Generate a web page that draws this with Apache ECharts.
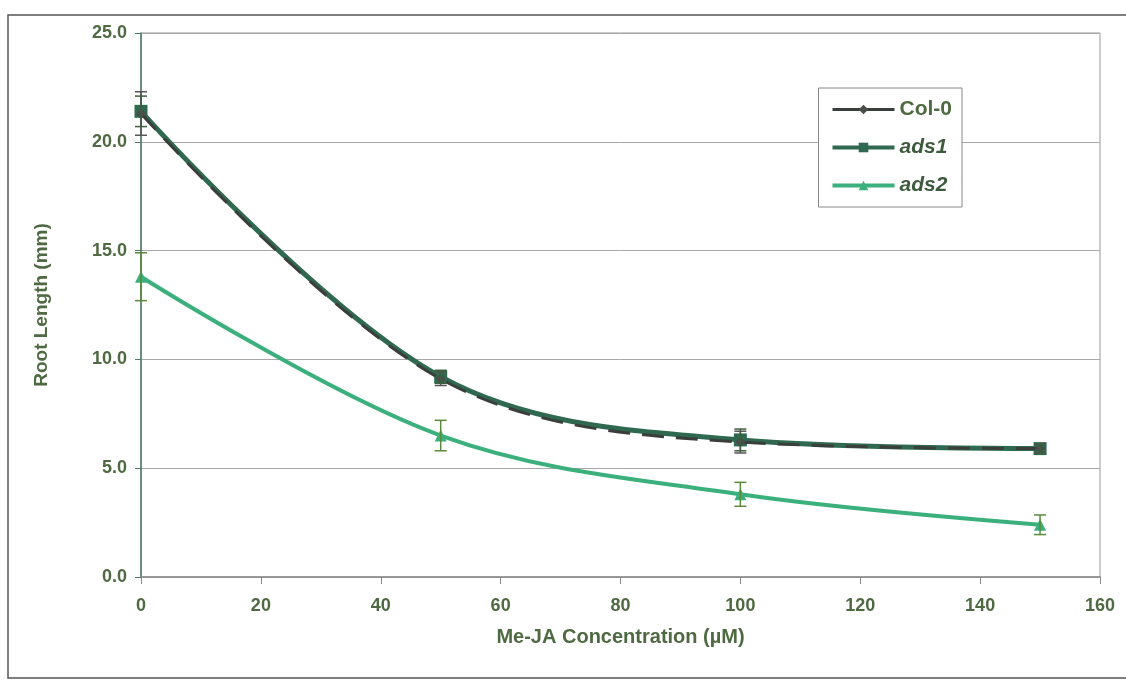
<!DOCTYPE html>
<html>
<head>
<meta charset="utf-8">
<script src="https://cdn.jsdelivr.net/npm/echarts@6/dist/echarts.min.js"></script>
<style>
  html, body { margin: 0; padding: 0; background: #fff; }
  #chart { width: 1126px; height: 683px; }
</style>
</head>
<body>
<div id="chart"></div>
<script>
// Me-JA concentration (uM)
const conc = [0, 50, 100, 150];
// root length (mm)
const col0 = [21.3, 9.1, 6.2, 5.9];
const ads1 = [21.4, 9.2, 6.3, 5.9];
const ads2 = [13.8, 6.5, 3.8, 2.4];
// error bars (+/-)
const col0Err = [1.0, 0.3, 0.5, 0.2];
const ads1Err = [0.7, 0.3, 0.5, 0.2];
const ads2Err = [1.1, 0.7, 0.55, 0.45];

const txtColor = '#4f6a42';
const font = 'Liberation Sans, Arial, sans-serif';

function errSeries(vals, errs, color) {
  return {
    type: 'custom',
    silent: true,
    z: 5,
    data: conc.map((c, i) => [c, vals[i] - errs[i], vals[i] + errs[i]]),
    renderItem: function (params, api) {
      const lo = api.coord([api.value(0), api.value(1)]);
      const hi = api.coord([api.value(0), api.value(2)]);
      const w = 6;
      const st = { stroke: color, lineWidth: 1.5 };
      return {
        type: 'group',
        children: [
          { type: 'line', shape: { x1: lo[0], y1: lo[1], x2: hi[0], y2: hi[1] }, style: st },
          { type: 'line', shape: { x1: lo[0] - w, y1: lo[1], x2: lo[0] + w, y2: lo[1] }, style: st },
          { type: 'line', shape: { x1: hi[0] - w, y1: hi[1], x2: hi[0] + w, y2: hi[1] }, style: st }
        ]
      };
    }
  };
}

let myChart = echarts.init(document.getElementById('chart'));

const option = {
  animation: false,
  backgroundColor: '#fff',
  textStyle: { fontFamily: font },
  graphic: [
    {
      type: 'rect',
      shape: { x: 8, y: 15, width: 1130, height: 663 },
      style: { fill: 'none', stroke: '#555', lineWidth: 1.5 },
      silent: true
    }
  ],
  grid: { left: 141, right: 26, top: 33, bottom: 106, show: true, borderColor: '#999', borderWidth: 1 },
  legend: {
    right: 164,
    top: 88,
    orient: 'vertical',
    itemWidth: 62,
    itemHeight: 12,
    itemGap: 17,
    padding: [11, 10, 11, 12],
    backgroundColor: '#fff',
    borderColor: '#888',
    borderWidth: 1,
    data: [
      { name: 'Col-0', lineStyle: { type: 'solid', width: 3 } },
      { name: 'ads1', lineStyle: { width: 4 } },
      { name: 'ads2', lineStyle: { width: 4 } }
    ],
    formatter: function (name) {
      return name === 'Col-0' ? '{n|' + name + '}' : '{i|' + name + '}';
    },
    textStyle: {
      rich: {
        n: { fontFamily: font, fontSize: 21, fontWeight: 'bold', color: txtColor },
        i: { fontFamily: font, fontSize: 21, fontWeight: 'bold', fontStyle: 'italic', color: '#3d5a3d' }
      }
    }
  },
  xAxis: {
    type: 'value',
    min: 0,
    max: 160,
    interval: 20,
    name: 'Me-JA Concentration (\u00b5M)',
    nameLocation: 'middle',
    nameGap: 50,
    nameTextStyle: { fontFamily: font, fontSize: 20, fontWeight: 'bold', color: txtColor },
    axisLine: { lineStyle: { color: '#8a8a8a', width: 1.5 } },
    axisTick: { inside: false, length: 7, lineStyle: { color: '#8a8a8a' } },
    axisLabel: { margin: 20, fontSize: 18, fontWeight: 'bold', color: txtColor },
    splitLine: { show: false }
  },
  yAxis: {
    type: 'value',
    min: 0,
    max: 25,
    interval: 5,
    name: 'Root Length (mm)',
    nameLocation: 'middle',
    nameGap: 90,
    nameRotate: 90,
    nameTextStyle: { fontFamily: font, fontSize: 19, fontWeight: 'bold', color: txtColor },
    axisLine: { show: true, lineStyle: { color: '#4b7a66', width: 1.5 } },
    axisTick: { show: true, length: 6, lineStyle: { color: '#4b7a66' } },
    axisLabel: {
      margin: 14,
      fontSize: 18,
      fontWeight: 'bold',
      color: txtColor,
      formatter: v => v.toFixed(1)
    },
    splitLine: { lineStyle: { color: '#a8a8a8', width: 1 } }
  },
  series: [
    errSeries(col0, col0Err, '#555'),
    errSeries(ads1, ads1Err, '#3e5e3e'),
    errSeries(ads2, ads2Err, '#5a8a3a'),
    {
      name: 'ads1',
      type: 'line',
      smooth: 0.35,
      z: 3,
      data: conc.map((c, i) => [c, ads1[i]]),
      symbol: 'rect',
      symbolSize: 13,
      lineStyle: { color: '#2f6a50', width: 5 },
      itemStyle: { color: '#2f6a50' }
    },
    {
      name: 'Col-0',
      type: 'line',
      smooth: 0.35,
      z: 4,
      data: conc.map((c, i) => [c, col0[i]]),
      symbol: 'diamond',
      symbolSize: 10,
      lineStyle: { color: '#3b3f3c', width: 3, type: [22, 12] },
      itemStyle: { color: '#4a4d4a' }
    },
    {
      name: 'ads2',
      type: 'line',
      smooth: 0.35,
      z: 3,
      data: conc.map((c, i) => [c, ads2[i]]),
      symbol: 'triangle',
      symbolSize: 12,
      lineStyle: { color: '#3bb07c', width: 4 },
      itemStyle: { color: '#3bb07c' }
    }
  ]
};

myChart.setOption(option);

window.onresize = function () {
  myChart.resize();
};
</script>
</body>
</html>
